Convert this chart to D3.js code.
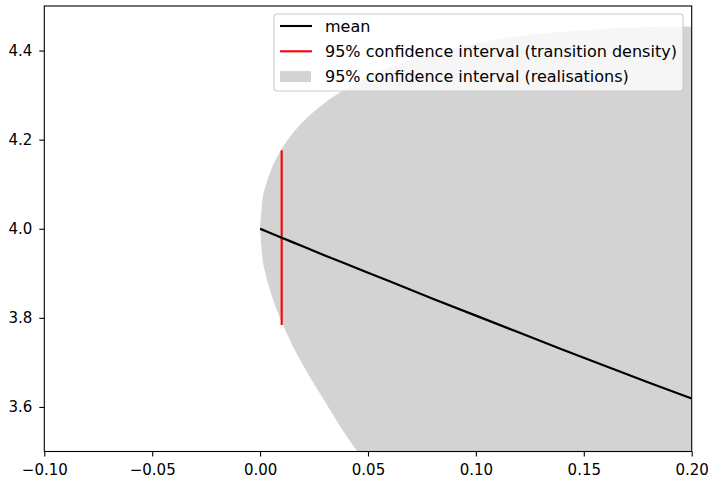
<!DOCTYPE html>
<html>
<head>
<meta charset="utf-8">
<script src="https://cdn.jsdelivr.net/npm/d3@7"></script>
<style>
  body { margin: 0; background: #fff; }
  svg { display: block; font-family: "DejaVu Sans", sans-serif; }
</style>
</head>
<body>
<div id="chart"></div>
<script>
// time points of the simulated path
const times = [0, 0.001, 0.0025, 0.005, 0.01, 0.015, 0.02, 0.03, 0.04, 0.05, 0.06, 0.08, 0.10, 0.12, 0.14, 0.16, 0.18, 0.20];
// mean of the process
const meanValues = [4.000, 3.998, 3.995, 3.990, 3.980, 3.970, 3.960, 3.940, 3.921, 3.901, 3.882, 3.843, 3.805, 3.767, 3.729, 3.692, 3.655, 3.619];
// 95% band from realisations
const bandLower = [4.000, 3.938, 3.900, 3.856, 3.791, 3.738, 3.693, 3.612, 3.535, 3.470, 3.420, 3.318, 3.225, 3.136, 3.051, 2.973, 2.897, 2.825];
const bandUpper = [4.000, 4.061, 4.095, 4.131, 4.179, 4.214, 4.241, 4.283, 4.315, 4.341, 4.362, 4.393, 4.416, 4.432, 4.442, 4.449, 4.453, 4.454];
// 95% interval from transition density
const densityTime = 0.01;
const densityLow = 3.784, densityHigh = 4.176;

const xTicks = [-0.10, -0.05, 0.00, 0.05, 0.10, 0.15, 0.20];
const yTicks = [3.6, 3.8, 4.0, 4.2, 4.4];
const legendLabels = ["mean", "95% confidence interval (transition density)", "95% confidence interval (realisations)"];

const width = 711, height = 478;
const margins = {top: 6, right: 19.3, bottom: 26.5, left: 44.3};

const svg = d3.select("#chart")
  .append("svg")
    .attr("width", width)
    .attr("height", height)
    .attr("viewBox", [0, 0, width, height]);

const xScale = d3.scaleLinear()
  .domain([-0.10, 0.20])
  .range([margins.left, width - margins.right]);

const yScale = d3.scaleLinear()
  .domain([3.5, 4.5])
  .range([height - margins.bottom, margins.top]);

svg.append("clipPath")
  .attr("id", "clip")
  .append("rect")
    .attr("x", margins.left)
    .attr("y", margins.top)
    .attr("width", width - margins.left - margins.right)
    .attr("height", height - margins.top - margins.bottom);

const plot = svg.append("g").attr("clip-path", "url(#clip)");

const rows = times.map((t, i) => ({t, mean: meanValues[i], lo: bandLower[i], hi: bandUpper[i]}));

// band
const area = d3.area()
  .x(d => xScale(d.t))
  .y0(d => yScale(d.lo))
  .y1(d => yScale(d.hi))
  .curve(d3.curveMonotoneX);

plot.append("path")
  .datum(rows)
  .attr("d", area)
  .attr("fill", "#d3d3d3");

// red interval
plot.append("line")
  .attr("x1", xScale(densityTime))
  .attr("x2", xScale(densityTime))
  .attr("y1", yScale(densityLow))
  .attr("y2", yScale(densityHigh))
  .attr("stroke", "red")
  .attr("stroke-width", 2.1);

// mean line
const line = d3.line()
  .x(d => xScale(d.t))
  .y(d => yScale(d.mean));

plot.append("path")
  .datum(rows)
  .attr("d", line)
  .attr("fill", "none")
  .attr("stroke", "black")
  .attr("stroke-width", 2.2);

// axes
const fmtX = d => d3.format(".2f")(d).replace("-", "\u2212");
const xAxis = svg.append("g")
  .attr("transform", `translate(0,${height - margins.bottom})`)
  .call(d3.axisBottom(xScale).tickValues(xTicks).tickFormat(fmtX).tickSize(5).tickPadding(8).tickSizeOuter(0));

const yAxis = svg.append("g")
  .attr("transform", `translate(${margins.left},0)`)
  .call(d3.axisLeft(yScale).tickValues(yTicks).tickFormat(d3.format(".1f")).tickSize(5).tickPadding(7).tickSizeOuter(0));

[xAxis, yAxis].forEach(ax => {
  ax.select(".domain").remove();
  ax.selectAll("line").attr("stroke", "black").attr("stroke-width", 1.1);
  ax.selectAll("text")
    .attr("fill", "black")
    .style("font-size", "15px")
    .style("font-family", "DejaVu Sans");
});

// frame
svg.append("rect")
  .attr("x", margins.left)
  .attr("y", margins.top)
  .attr("width", width - margins.left - margins.right)
  .attr("height", height - margins.top - margins.bottom)
  .attr("fill", "none")
  .attr("stroke", "black")
  .attr("stroke-width", 1.1);

// legend
const legend = svg.append("g").attr("transform", "translate(274,14)");
legend.append("rect")
  .attr("width", 409)
  .attr("height", 77)
  .attr("rx", 3)
  .attr("fill", "white")
  .attr("fill-opacity", 0.8)
  .attr("stroke", "#cccccc")
  .attr("stroke-width", 1.1);

const items = legend.selectAll("g.item")
  .data(legendLabels)
  .join("g")
    .attr("class", "item")
    .attr("transform", (d, i) => `translate(6,${12 + i * 25.3})`);

items.each(function(d, i) {
  const g = d3.select(this);
  if (i < 2) {
    g.append("line")
      .attr("x1", 0).attr("x2", 32)
      .attr("stroke", i === 0 ? "black" : "red")
      .attr("stroke-width", 2.1);
  } else {
    g.append("rect")
      .attr("x", 0).attr("y", -5.5)
      .attr("width", 31).attr("height", 11)
      .attr("fill", "#d3d3d3");
  }
  g.append("text")
    .attr("x", 45)
    .attr("dy", "0.35em")
    .style("font-size", "16px")
    .attr("fill", "black")
    .text(d);
});
</script>
</body>
</html>
